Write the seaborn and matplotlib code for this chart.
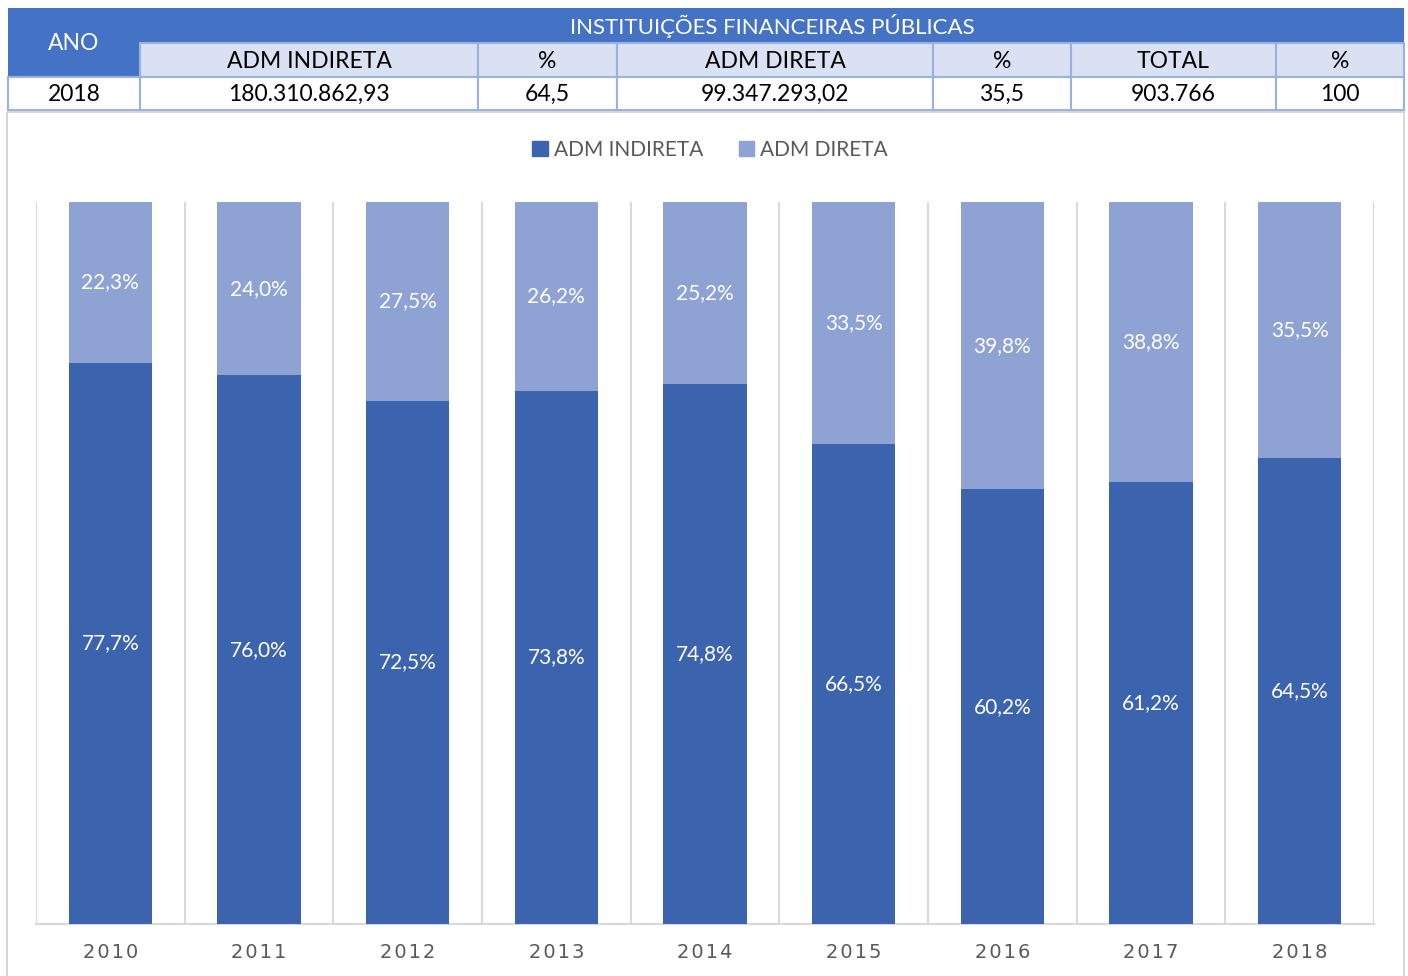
"""Participação da ADM indireta / direta nas instituições financeiras públicas."""

import matplotlib

matplotlib.use("Agg")
import matplotlib.pyplot as plt  # noqa: E402
import pandas as pd  # noqa: E402
import seaborn as sns  # noqa: E402
from matplotlib.patches import Rectangle  # noqa: E402

# --- data -----------------------------------------------------------------
anos = ["2010", "2011", "2012", "2013", "2014", "2015", "2016", "2017", "2018"]
adm_indireta = [77.7, 76.0, 72.5, 73.8, 74.8, 66.5, 60.2, 61.2, 64.5]
adm_direta = [22.3, 24.0, 27.5, 26.2, 25.2, 33.5, 39.8, 38.8, 35.5]

tabela_titulo = "INSTITUIÇÕES FINANCEIRAS PÚBLICAS"
tabela_colunas = ["ADM INDIRETA", "%", "ADM DIRETA", "%", "TOTAL", "%"]
tabela_linha = ["2018", "180.310.862,93", "64,5", "99.347.293,02", "35,5", "903.766", "100"]

COR_INDIRETA = "#3C64AE"
COR_DIRETA = "#8FA2D4"
AZUL = "#4472C4"
AZUL_CLARO = "#D9E1F2"
BORDA = "#9BB2DE"
CINZA = "#595959"
GRADE = "#D9D9D9"

W, H = 1408, 976

sns.set_theme(style="white")
plt.rcParams["font.family"] = ["Lato", "DejaVu Sans"]

fig = plt.figure(figsize=(W / 100, H / 100), dpi=100)

# overlay axes in pixel coordinates for the table and chart frame
bg = fig.add_axes([0, 0, 1, 1])
bg.set_xlim(0, W)
bg.set_ylim(H, 0)
bg.axis("off")

# chart frame
bg.add_patch(Rectangle((7, 112), 1397, 870, fill=False, edgecolor="#D0D0D0", lw=1.2))

# table geometry
cols = [8, 140, 478, 617, 933, 1071, 1276, 1404]
rows = [8, 43, 77, 110]

# header row (blue) + ANO cell spanning two rows
bg.add_patch(Rectangle((cols[0], rows[0]), cols[-1] - cols[0], rows[1] - rows[0], color=AZUL, lw=0))
bg.add_patch(Rectangle((cols[0], rows[0]), cols[1] - cols[0], rows[2] - rows[0], color=AZUL, lw=0))
bg.text((cols[0] + cols[1]) / 2, (rows[0] + rows[2]) / 2 + 1, "ANO", color="white",
        fontsize=16.5, ha="center", va="center")
bg.text((cols[1] + cols[-1]) / 2, (rows[0] + rows[1]) / 2 + 1, tabela_titulo, color="white",
        fontsize=16, ha="center", va="center")

# sub-header row
for i, nome in enumerate(tabela_colunas):
    x0, x1 = cols[i + 1], cols[i + 2]
    bg.add_patch(Rectangle((x0, rows[1]), x1 - x0, rows[2] - rows[1],
                           facecolor=AZUL_CLARO, edgecolor=BORDA, lw=1.5))
    bg.text((x0 + x1) / 2, (rows[1] + rows[2]) / 2 + 1, nome, color="black",
            fontsize=16.5, ha="center", va="center")

# value row
for i, valor in enumerate(tabela_linha):
    x0, x1 = cols[i], cols[i + 1]
    bg.add_patch(Rectangle((x0, rows[2]), x1 - x0, rows[3] - rows[2],
                           facecolor="white", edgecolor=BORDA, lw=1.5))
    bg.text((x0 + x1) / 2, (rows[2] + rows[3]) / 2 + 1, valor, color="black",
            fontsize=16.5, ha="center", va="center")

# --- stacked 100% bars ----------------------------------------------------
df = pd.DataFrame({"ano": anos, "indireta": adm_indireta, "direta": adm_direta})
df["total"] = df["indireta"] + df["direta"]

ax = fig.add_axes([36 / W, 1 - 924 / H, (1374 - 36) / W, (924 - 202) / H])
sns.barplot(data=df, x="ano", y="total", color=COR_DIRETA, width=0.56,
            saturation=1, linewidth=0, ax=ax, zorder=3)
sns.barplot(data=df, x="ano", y="indireta", color=COR_INDIRETA, width=0.56,
            saturation=1, linewidth=0, ax=ax, zorder=3)

for i, row in df.iterrows():
    ax.text(i, row["indireta"] / 2, f"{row['indireta']:.1f}%".replace(".", ","),
            color="white", fontsize=15, ha="center", va="center", zorder=4)
    ax.text(i, row["indireta"] + row["direta"] / 2, f"{row['direta']:.1f}%".replace(".", ","),
            color="white", fontsize=15, ha="center", va="center", zorder=4)

ax.set_xlim(-0.5, len(anos) - 0.5)
ax.set_ylim(0, 100)
for b in range(len(anos) + 1):
    ax.axvline(b - 0.5, color=GRADE, lw=1.5, zorder=1)
for s in ["top", "right", "left"]:
    ax.spines[s].set_visible(False)
ax.spines["bottom"].set_color(GRADE)
ax.spines["bottom"].set_linewidth(1.5)
ax.set_yticks([])
ax.set_xlabel("")
ax.set_ylabel("")
ax.set_xticks(range(len(anos)))
ax.set_xticklabels(["\u200a".join(a) for a in anos], color=CINZA, fontsize=14,
                   family=["DejaVu Sans"])
ax.tick_params(axis="x", length=0, pad=14)

# legend
handles = [Rectangle((0, 0), 1, 1, color=COR_INDIRETA), Rectangle((0, 0), 1, 1, color=COR_DIRETA)]
fig.legend(handles, ["ADM INDIRETA", "ADM DIRETA"], loc="center", bbox_to_anchor=(710 / W, 1 - 150 / H),
           ncol=2, frameon=False, fontsize=15, labelcolor=CINZA, handlelength=0.75, handleheight=0.75,
           handletextpad=0.3, columnspacing=1.7)

fig.savefig("out.png", dpi=100)
